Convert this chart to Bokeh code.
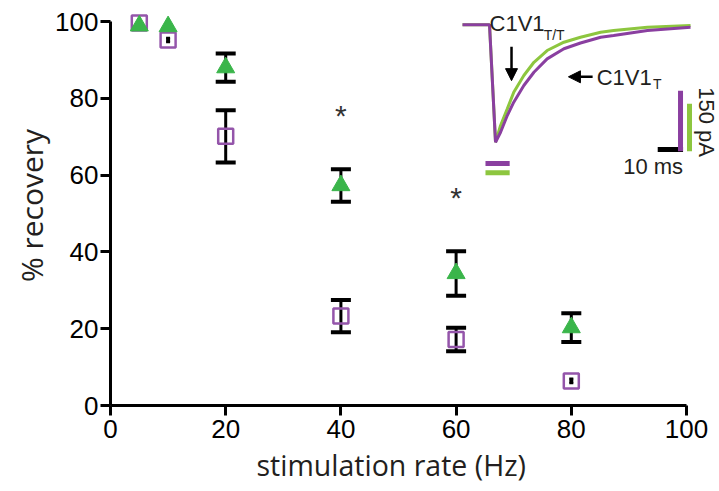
import math
from bokeh.plotting import figure
from bokeh.models import (Range1d, ColumnDataSource, Whisker, TeeHead, Label, Title,
                          Arrow, NormalHead, FixedTicker)
from bokeh.embed import file_html
from bokeh.resources import INLINE
from bokeh.core.properties import value

# ---------------- data ----------------
rates = [5, 10, 20, 40, 60, 80]                      # stimulation rate (Hz)
tt_mean = [98.9, 98.7, 88.0, 57.3, 34.4, 20.3]       # C1V1 T/T  % recovery (green)
tt_sem = [0.0, 0.0, 3.7, 4.25, 5.8, 3.75]
t_mean = [99.6, 95.2, 70.1, 23.3, 17.2, 6.4]         # C1V1 T    % recovery (purple)
t_sem = [0.0, 0.6, 6.8, 4.2, 3.05, 0.6]
sig_rates = [40, 60]                                 # significance asterisks
sig_level = [75.9, 54.4]

x_ticks = [0, 20, 40, 60, 80, 100]
y_ticks = [0, 20, 40, 60, 80, 100]

# inset: example photocurrents (time in ms from onset, current normalised to peak)
trace_t_ms = [-11.25, 0, 2.5, 4.6, 7.4, 10.1, 14.3, 18.5, 24.0, 31.0, 37.9, 46.3, 51.7, 65.8, 83.75]
trace_T = [0, 0, 1.0, 0.915, 0.773, 0.659, 0.517, 0.404, 0.290, 0.204, 0.155, 0.106, 0.091, 0.049, 0.020]
trace_TT = [0, 0, 1.0, 0.858, 0.716, 0.574, 0.432, 0.319, 0.219, 0.148, 0.106, 0.063, 0.049, 0.020, 0.006]

GREEN = "#3ab54a"
PURPLE = "#9455aa"
TRACE_PURPLE = "#8a3fa0"
TRACE_GREEN = "#8dc63f"
FONT = "Liberation Sans"
TITLE_FONT = "Open Sans"

# inset placement in main-plot data units
INSET_X0, INSET_XS = 65.8, 0.4167     # x of onset, data units per ms
INSET_Y0, INSET_YS = 99.14, 30.57     # y of baseline, data units per normalised amplitude

p = figure(width=719, height=491, output_backend="svg", toolbar_location=None,
           x_range=Range1d(0, 105.38), y_range=Range1d(0, 104.17),
           min_border_left=110, min_border_right=2, min_border_top=5,
           min_border_bottom=86)
p.outline_line_color = None
p.grid.visible = False
p.background_fill_color = "white"

for ax in (p.xaxis[0], p.yaxis[0]):
    ax.bounds = (0, 100)
    ax.axis_line_width = 3
    ax.axis_line_color = "black"
    ax.major_tick_line_width = 3
    ax.major_tick_line_color = "black"
    ax.major_tick_out = 10
    ax.major_tick_in = 0
    ax.minor_tick_line_color = None
    ax.major_label_text_font = FONT
    ax.major_label_text_font_size = "26px"
    ax.major_label_text_color = "black"
p.xaxis[0].ticker = FixedTicker(ticks=x_ticks)
p.yaxis[0].ticker = FixedTicker(ticks=y_ticks)
p.xaxis[0].major_label_standoff = 4
p.yaxis[0].major_label_standoff = 2

# axis titles
p.add_layout(Title(text="stimulation rate (Hz)", align="left", offset=146,
                   text_font=TITLE_FONT, text_font_size="28.5px", text_color="#231f20",
                   text_font_style="normal", standoff=6), "below")
p.add_layout(Title(text="% recovery", align="center", offset=-13,
                   text_font=TITLE_FONT, text_font_size="30px", text_color="#231f20",
                   text_font_style="normal", standoff=2), "left")

# error bars
def bars(means, sems, big):
    xs, lo, hi = [], [], []
    for x, m, s in zip(rates, means, sems):
        if s <= 0:
            continue
        if (s > 1.0) == big:
            xs.append(x); lo.append(m - s); hi.append(m + s)
    return ColumnDataSource(dict(x=xs, lo=lo, hi=hi))

for means, sems in ((tt_mean, tt_sem), (t_mean, t_sem)):
    src = bars(means, sems, True)
    p.add_layout(Whisker(source=src, base="x", upper="hi", lower="lo", dimension="height",
                         line_width=3, line_color="black",
                         upper_head=TeeHead(size=20, line_width=4, line_color="black"),
                         lower_head=TeeHead(size=20, line_width=4, line_color="black")))
    src2 = bars(means, sems, False)
    p.add_layout(Whisker(source=src2, base="x", upper="hi", lower="lo", dimension="height",
                         line_width=4, line_color="black",
                         upper_head=TeeHead(size=4, line_width=2, line_color="black"),
                         lower_head=TeeHead(size=4, line_width=2, line_color="black")))

p.scatter(rates, t_mean, marker="square", size=15, fill_color=None,
          line_color=PURPLE, line_width=2.5)
p.scatter(rates, tt_mean, marker="triangle", size=18, fill_color=GREEN,
          line_color=GREEN, line_width=1)

p.text(sig_rates, [v - 0.3 for v in sig_level], text=["*"] * len(sig_rates),
       text_font=value(FONT), text_font_size="30px", text_color="#333333",
       text_align="center", text_baseline="middle")

# ---------------- inset ----------------
ix = [INSET_X0 + t * INSET_XS for t in trace_t_ms]
p.line(ix, [INSET_Y0 - a * INSET_YS for a in trace_TT], line_color=TRACE_GREEN, line_width=3)
p.line(ix, [INSET_Y0 - a * INSET_YS for a in trace_T], line_color=TRACE_PURPLE, line_width=3)

# light-pulse bars
p.segment(x0=[65.1, 65.1], y0=[63.0, 60.6], x1=[69.3, 69.3], y1=[63.0, 60.6],
          line_color=[TRACE_PURPLE, TRACE_GREEN], line_width=5, line_cap="butt")
# scale bars
p.segment(x0=[95.0, 98.96, 100.52], y0=[66.67, 66.2, 66.2],
          x1=[99.4, 98.96, 100.52], y1=[66.67, 82.0, 78.6],
          line_color=["black", TRACE_PURPLE, TRACE_GREEN], line_width=5, line_cap="butt")

def lab(x, y, text, size, **kw):
    p.add_layout(Label(x=x, y=y, text=text, text_font=FONT, text_font_size=size,
                       text_color="#231f20", text_baseline="middle", **kw))

lab(65.8, 99.4, "C1V1", "22px")
lab(75.2, 96.5, "T/T", "14px")
lab(84.4, 85.4, "C1V1", "22px")
lab(94.2, 83.7, "T", "14px")
lab(99.4, 62.2, "10 ms", "22px", text_align="right")
lab(103.4, 73.8, "150 pA", "22px", text_align="center", angle=-math.pi / 2)

p.add_layout(Arrow(x_start=69.62, y_start=93.4, x_end=69.62, y_end=84.6, line_width=2.5,
                   end=NormalHead(size=12, fill_color="black", line_color="black")))
p.add_layout(Arrow(x_start=83.7, y_start=85.6, x_end=79.5, y_end=85.6, line_width=2.5,
                   end=NormalHead(size=12, fill_color="black", line_color="black")))

open("out.html", "w").write(file_html(p, INLINE))
